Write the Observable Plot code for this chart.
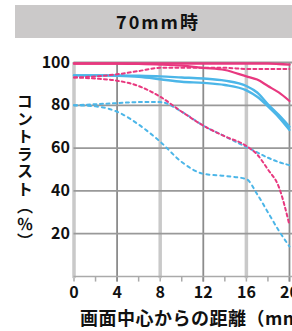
<!DOCTYPE html>
<html><head><meta charset="utf-8">
<script src="https://cdn.jsdelivr.net/npm/d3@7"></script>
<script src="https://cdn.jsdelivr.net/npm/@observablehq/plot@0.6"></script>
<style>
body{margin:0;background:#fff;width:292px;height:331px;overflow:hidden;}
#title{margin:5px 0 0 15px;width:277px;height:33px;background:#cbc9c9;font:bold 18px "Noto Sans CJK JP";letter-spacing:2px;text-align:center;line-height:33px;padding-left:9px;box-sizing:border-box;color:#111}
#chart{margin-top:2px}
#chart svg{display:block;overflow:visible}
</style></head><body>
<div id="title">70mm時</div>
<div id="chart"></div>
<script>
// distance from image centre (mm)
const xs = [0, 2, 4, 6, 8, 10, 12, 14, 16, 17, 18, 19, 20];
// contrast (%) series
const pinkS10 = [99.5, 99.5, 99.5, 99.5, 99.5, 99.5, 99.5, 99.5, 99.5, 99.5, 99.5, 99.3, 99];
const pinkM10 = [99.5, 99.5, 99.5, 99.3, 99, 98.5, 97.5, 96.5, 93.5, 92, 89, 86, 82];
const pinkS30 = [93, 93.5, 94.5, 96, 97.5, 97.5, 97.5, 97.5, 97, 97, 97, 97, 97];
const pinkM30 = [93, 92.5, 91.5, 89, 84, 77, 70.5, 65.5, 61, 57, 50, 42, 24];
const blueS10 = [94, 94, 94, 93.8, 93.5, 93, 92.5, 91.5, 89, 86, 80.5, 75.5, 70];
const blueM10 = [94, 94, 93.8, 93.3, 92.2, 91, 90.5, 89.5, 87, 84, 79.5, 74.5, 68.5];
const blueS30 = [80, 80.5, 81, 81.5, 81.5, 77, 70.5, 65.5, 60.5, 58, 55.5, 53.5, 52];
const blueM30 = [80, 79.5, 77, 71, 63, 53.5, 48, 47, 45.5, 38.5, 30, 21.5, 14];
// ticks
const xTicks = [0, 4, 8, 12, 16, 20];
const xMinor = [0, 2, 4, 6, 8, 10, 12, 14, 16, 18, 20];
const yTicks = [20, 40, 60, 80, 100];
const darkGridX = [4, 12, 20];
const lightGridX = [0, 8, 16];

const PINK = "#e8387f", BLUE = "#4cb6e8";
const series = [
  {name: "blueS10", v: blueS10, color: BLUE, dash: null, w: 2.4},
  {name: "blueM10", v: blueM10, color: BLUE, dash: null, w: 2.4},
  {name: "blueS30", v: blueS30, color: BLUE, dash: "3,3.5", w: 2},
  {name: "blueM30", v: blueM30, color: BLUE, dash: "3,4", w: 2},
  {name: "pinkS10", v: pinkS10, color: PINK, dash: null, w: 2.4},
  {name: "pinkM10", v: pinkM10, color: PINK, dash: null, w: 2.2},
  {name: "pinkS30", v: pinkS30, color: PINK, dash: "3,3", w: 2},
  {name: "pinkM30", v: pinkM30, color: PINK, dash: "3,3", w: 2}
];
const lineMarks = series.map(s => Plot.line(xs.map((x, i) => ({x, y: s.v[i]})), {
  x: "x", y: "y", stroke: s.color, strokeWidth: s.w, strokeDasharray: s.dash, curve: "monotone-x"
}));

const FONT = "'Noto Sans CJK JP', sans-serif";
const chart = Plot.plot({
  width: 292, height: 291,
  marginLeft: 73.5, marginRight: 0, marginTop: 22, marginBottom: 55,
  x: {domain: [0, 20.28]},
  y: {domain: [0, 100]},
  style: {fontFamily: FONT, fontSize: "16px", color: "#111", background: "transparent"},
  marks: [
    Plot.ruleX(xMinor, {y1: -2.6, y2: 0, stroke: "#aaa", strokeWidth: 1.5}),
    Plot.ruleX(lightGridX, {y1: -1, y2: 100, stroke: "#c9c9c9", strokeWidth: 3.5}),
    Plot.ruleX(darkGridX, {y1: -2.6, y2: 100, stroke: "#8c8c8c", strokeWidth: 1.8}),
    Plot.ruleY(yTicks, {stroke: "#999", strokeWidth: 1.8}),
    Plot.ruleY([0], {stroke: "#aaa", strokeWidth: 1.3}),
    ...lineMarks,
    Plot.axisX(xTicks, {tickSize: 0, tickPadding: 10, label: null, fontWeight: "bold"}),
    Plot.axisY(yTicks, {tickSize: 0, tickPadding: 4, label: null, fontWeight: "bold"})
  ]
});
document.getElementById("chart").appendChild(chart);
const svg = d3.select(chart);
svg.append("text")
  .attr("x", 25).attr("y", 53)
  .attr("text-anchor", "start")
  .attr("fill", "#111")
  .style("writing-mode", "vertical-rl")
  .style("font", "bold 16px 'Noto Sans CJK JP'")
  .style("letter-spacing", "1.5px")
  .text("コントラスト（％）");
svg.append("text")
  .attr("x", 80).attr("y", 285)
  .attr("text-anchor", "start")
  .attr("fill", "#111")
  .style("font", "bold 18px 'Noto Sans CJK JP'")
  .style("letter-spacing", "0.5px")
  .text("画面中心からの距離（mm）");
</script>
</body></html>
